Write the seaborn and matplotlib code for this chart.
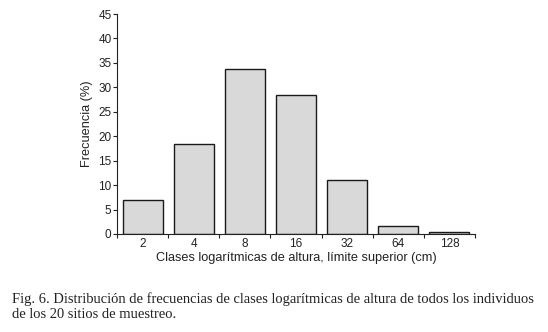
import matplotlib
matplotlib.use("Agg")
import matplotlib.pyplot as plt
import seaborn as sns
import pandas as pd
from matplotlib.ticker import FixedLocator, NullFormatter

clases = ["2", "4", "8", "16", "32", "64", "128"]
frecuencia = [6.9, 18.4, 33.7, 28.4, 11.0, 1.6, 0.4]
y_ticks = [0, 5, 10, 15, 20, 25, 30, 35, 40, 45]

sns.set_style("ticks")
plt.rcParams['font.family'] = ['Liberation Sans', 'DejaVu Sans']

df = pd.DataFrame({"clase": clases, "frecuencia": frecuencia})

fig = plt.figure(figsize=(5.48, 3.32), dpi=100)
ax = fig.add_axes([0.2135, 0.2952, 0.8668 - 0.2135, 0.9578 - 0.2952])
sns.barplot(data=df, x="clase", y="frecuencia", order=clases, color="#d9d9d9",
            edgecolor="#1a1a1a", linewidth=1.0, width=0.78, saturation=1, ax=ax)

ax.set_xlim(-0.5, len(clases) - 0.5)
ax.set_ylim(0, 45)
ax.set_yticks(y_ticks)
ax.set_yticklabels([str(t) for t in y_ticks], fontsize=8.5, color="#222222")
ax.set_xticks(range(len(clases)))
ax.set_xticklabels(clases, fontsize=8.5, color="#222222")
ax.tick_params(axis="x", which="major", length=0, pad=3)
ax.xaxis.set_minor_locator(FixedLocator([i - 0.5 for i in range(len(clases) + 1)]))
ax.xaxis.set_minor_formatter(NullFormatter())
ax.tick_params(axis="x", which="minor", length=3, width=0.8, direction="out", color="#222222")
ax.tick_params(axis="y", length=3, width=0.8, direction="out", pad=1, color="#222222")
for s in ["top", "right"]:
    ax.spines[s].set_visible(False)
for s in ["left", "bottom"]:
    ax.spines[s].set_linewidth(0.8)
    ax.spines[s].set_color("#222222")

ax.set_xlabel("Clases logarítmicas de altura, límite superior (cm)", fontsize=9.2,
              color="#222222", labelpad=1)
ax.set_ylabel("Frecuencia (%)", fontsize=9.2, color="#222222", labelpad=4)

fig.text(12 / 548, 1 - 299 / 332,
         "Fig. 6. Distribución de frecuencias de clases logarítmicas de altura de todos los individuos",
         fontsize=10.45, family=["Liberation Serif", "DejaVu Serif"], va="center", ha="left", color="#222222")
fig.text(12 / 548, 1 - 315 / 332, "de los 20 sitios de muestreo.",
         fontsize=10.45, family=["Liberation Serif", "DejaVu Serif"], va="center", ha="left", color="#222222")

fig.savefig("out.png", dpi=100)
